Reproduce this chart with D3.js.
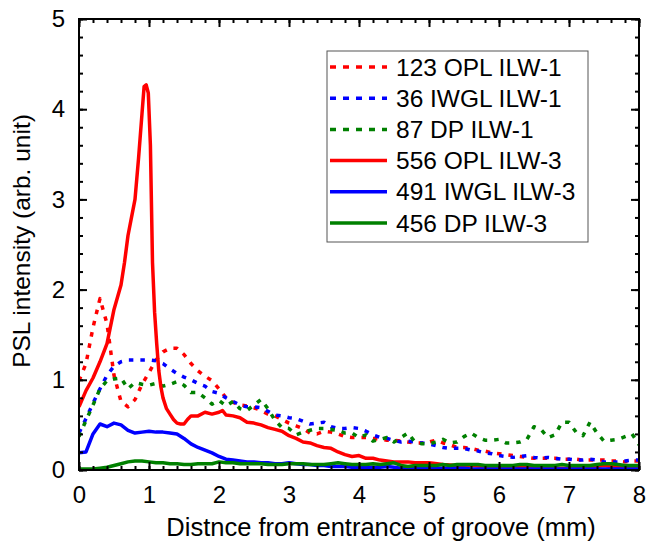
<!DOCTYPE html>
<html>
<head>
<meta charset="utf-8">
<script src="https://cdn.jsdelivr.net/npm/d3@7"></script>
<style>
body { margin: 0; background: #fff; }
text { font-family: "Liberation Sans", Arial, sans-serif; fill: #000; }
</style>
</head>
<body>
<svg id="chart" width="646" height="543"></svg>
<script>
// shared x grid (mm), step 0.1
var xGrid = d3.range(0, 81).map(function (i) { return +(i / 10).toFixed(1); });

// 123 OPL ILW-1 (dotted red)
var oplIlw1 = [0.99, 1.18, 1.58, 1.9, 1.62, 1.05, 0.76, 0.7, 0.78, 0.95,
    1.08, 1.22, 1.31, 1.35, 1.35, 1.28, 1.18, 1.1, 1.04, 0.99,
    0.9, 0.8, 0.75, 0.72, 0.71, 0.69, 0.66, 0.62, 0.6, 0.56,
    0.52, 0.49, 0.46, 0.41, 0.4, 0.43, 0.42, 0.4, 0.37, 0.36,
    0.36, 0.36, 0.35, 0.34, 0.33, 0.33, 0.32, 0.31, 0.3, 0.3,
    0.31, 0.33, 0.3, 0.28, 0.25, 0.25, 0.24, 0.22, 0.21, 0.19,
    0.18, 0.17, 0.16, 0.15, 0.14, 0.13, 0.13, 0.13, 0.13, 0.12,
    0.12, 0.12, 0.11, 0.11, 0.11, 0.11, 0.1, 0.1, 0.09, 0.1, 0.1];

// 36 IWGL ILW-1 (dotted blue)
var iwglIlw1 = [0.41, 0.57, 0.74, 0.9, 1.05, 1.15, 1.2, 1.22, 1.22, 1.22,
    1.22, 1.21, 1.18, 1.12, 1.07, 1.03, 1.0, 0.96, 0.93, 0.87,
    0.85, 0.8, 0.76, 0.72, 0.7, 0.7, 0.69, 0.65, 0.61, 0.6,
    0.58, 0.57, 0.54, 0.51, 0.52, 0.53, 0.48, 0.46, 0.46, 0.47,
    0.46, 0.43, 0.39, 0.36, 0.35, 0.33, 0.31, 0.32, 0.31, 0.3,
    0.29, 0.27, 0.25, 0.24, 0.24, 0.24, 0.22, 0.21, 0.19, 0.18,
    0.16, 0.15, 0.14, 0.15, 0.16, 0.14, 0.13, 0.14, 0.13, 0.12,
    0.12, 0.11, 0.11, 0.12, 0.11, 0.09, 0.09, 0.09, 0.1, 0.11, 0.11];

// 87 DP ILW-1 (dotted green)
var dpIlw1 = [0.37, 0.55, 0.72, 0.9, 0.99, 1.01, 1.02, 0.9, 0.97, 0.95,
    0.94, 0.96, 0.93, 0.95, 0.98, 0.94, 0.86, 0.86, 0.8, 0.73,
    0.77, 0.71, 0.76, 0.68, 0.66, 0.72, 0.78, 0.68, 0.55, 0.47,
    0.46, 0.39, 0.42, 0.44, 0.46, 0.46, 0.45, 0.44, 0.41, 0.41,
    0.36, 0.39, 0.32, 0.34, 0.36, 0.31, 0.36, 0.41, 0.31, 0.29,
    0.29, 0.31, 0.34, 0.3, 0.31, 0.37, 0.41, 0.36, 0.33, 0.33,
    0.34, 0.3, 0.3, 0.31, 0.34, 0.48, 0.45, 0.36, 0.39, 0.53,
    0.53, 0.42, 0.38, 0.53, 0.41, 0.32, 0.33, 0.34, 0.37, 0.4, 0.28];

// 556 OPL ILW-3 (solid red) has its own x, finer around the peak
var xOplIlw3 = [0, 0.1, 0.2, 0.3, 0.4, 0.5, 0.6, 0.65, 0.7, 0.75,
    0.8, 0.85, 0.9, 0.93, 0.96, 0.99, 1.02, 1.05, 1.08, 1.11,
    1.14, 1.17, 1.2, 1.25, 1.3, 1.35, 1.4, 1.45, 1.5, 1.55,
    1.6, 1.7, 1.8, 1.9, 2.0, 2.05, 2.1, 2.2, 2.3, 2.4,
    2.5, 2.6, 2.7, 2.8, 2.9, 3.0, 3.1, 3.2, 3.3, 3.4,
    3.5, 3.6, 3.7, 3.8, 3.9, 4.0, 4.1, 4.2, 4.3, 4.4,
    4.5, 4.6, 4.7, 4.8, 4.9, 5.0, 5.2, 5.4, 5.6, 5.8,
    6.0, 6.2, 6.4, 6.6, 6.8, 7.0, 7.2, 7.4, 7.5, 7.6, 7.8, 8.0];
var oplIlw3 = [0.7, 0.88, 1.02, 1.2, 1.4, 1.78, 2.05, 2.3, 2.6, 2.8,
    3.0, 3.45, 3.95, 4.25, 4.27, 4.18, 3.6, 2.3, 1.75, 1.4,
    1.1, 0.92, 0.8, 0.68, 0.62, 0.56, 0.52, 0.51, 0.51, 0.56,
    0.6, 0.6, 0.64, 0.62, 0.64, 0.66, 0.61, 0.6, 0.58, 0.53,
    0.52, 0.5, 0.47, 0.45, 0.43, 0.38, 0.35, 0.31, 0.3, 0.27,
    0.25, 0.24, 0.2, 0.17, 0.15, 0.16, 0.13, 0.13, 0.11, 0.1,
    0.09, 0.09, 0.09, 0.08, 0.08, 0.08, 0.06, 0.05, 0.05, 0.04,
    0.03, 0.03, 0.03, 0.02, 0.02, 0.02, 0.03, 0.04, 0.05, 0.04, 0.03, 0.03];

// 491 IWGL ILW-3 (solid blue)
var iwglIlw3 = [0.19, 0.2, 0.4, 0.51, 0.48, 0.52, 0.5, 0.44, 0.41, 0.42,
    0.43, 0.42, 0.42, 0.41, 0.4, 0.35, 0.29, 0.25, 0.22, 0.19,
    0.15, 0.12, 0.11, 0.1, 0.09, 0.09, 0.08, 0.08, 0.07, 0.07,
    0.08, 0.07, 0.06, 0.06, 0.05, 0.05, 0.04, 0.04, 0.04, 0.03,
    0.03, 0.03, 0.03, 0.03, 0.04, 0.03, 0.02, 0.02, 0.02, 0.02,
    0.02, 0.02, 0.02, 0.02, 0.02, 0.02, 0.01, 0.01, 0.01, 0.01,
    0.01, 0.01, 0.01, 0.01, 0.01, 0.01, 0.01, 0.01, 0.01, 0.01,
    0.01, 0.01, 0.01, 0.01, 0.01, 0.01, 0.01, 0.01, 0.01, 0.01, 0.01];

// 456 DP ILW-3 (solid green)
var dpIlw3 = [0.01, 0.01, 0.01, 0.02, 0.03, 0.05, 0.07, 0.09, 0.1, 0.1,
    0.09, 0.08, 0.08, 0.07, 0.07, 0.06, 0.06, 0.07, 0.07, 0.07,
    0.09, 0.08, 0.08, 0.07, 0.07, 0.07, 0.07, 0.06, 0.06, 0.06,
    0.07, 0.07, 0.07, 0.06, 0.06, 0.06, 0.07, 0.08, 0.07, 0.06,
    0.06, 0.06, 0.07, 0.06, 0.07, 0.08, 0.05, 0.04, 0.05, 0.05,
    0.05, 0.05, 0.06, 0.05, 0.06, 0.06, 0.06, 0.06, 0.05, 0.05,
    0.05, 0.05, 0.05, 0.06, 0.06, 0.05, 0.05, 0.05, 0.05, 0.06,
    0.05, 0.05, 0.05, 0.05, 0.06, 0.07, 0.07, 0.06, 0.05, 0.05, 0.05];

var seriesNames = ["123 OPL ILW-1", "36 IWGL ILW-1", "87 DP ILW-1",
    "556 OPL ILW-3", "491 IWGL ILW-3", "456 DP ILW-3"];
var seriesColors = ["#ff0000", "#0000ff", "#008000", "#ff0000", "#0000ff", "#008000"];
var seriesDotted = [true, true, true, false, false, false];
var xTicks = [0, 1, 2, 3, 4, 5, 6, 7, 8];
var yTicks = [0, 1, 2, 3, 4, 5];

var zip = function (xs, ys) {
    return xs.map(function (x, i) { return { x: x, y: ys[i] }; });
};
var seriesData = [
    zip(xGrid, oplIlw1), zip(xGrid, iwglIlw1), zip(xGrid, dpIlw1),
    zip(xOplIlw3, oplIlw3), zip(xGrid, iwglIlw3), zip(xGrid, dpIlw3)
];

var margins = { left: 79, right: 7, top: 19, bottom: 73 };
var graph = { width: 646 - margins.left - margins.right, height: 543 - margins.top - margins.bottom };

var xScale = d3.scaleLinear().domain([0, 8]).range([0, graph.width]);
var yScale = d3.scaleLinear().domain([0, 5]).range([graph.height, 0]);

var svg = d3.select("#chart");
var plot = svg.append("g")
    .attr("transform", "translate(" + margins.left + "," + margins.top + ")");

plot.append("clipPath").attr("id", "clip")
    .append("rect").attr("width", graph.width).attr("height", graph.height);

var line = d3.line()
    .x(function (d) { return xScale(d.x); })
    .y(function (d) { return yScale(d.y); });

var lines = plot.append("g").attr("clip-path", "url(#clip)");
seriesData.forEach(function (data, i) {
    lines.append("path")
        .datum(data)
        .attr("d", line)
        .attr("fill", "none")
        .attr("stroke", seriesColors[i])
        .attr("stroke-width", 3.5)
        .attr("stroke-linejoin", "round")
        .attr("stroke-dasharray", seriesDotted[i] ? "4.5,7" : null);
});

// axes: ticks inside on all four sides, minor every 0.2
var xMinor = d3.range(0, 8.001, 0.2);
var yMinor = d3.range(0, 5.001, 0.2);
var styleAxis = function (g) {
    g.select(".domain").remove();
    g.selectAll("line").attr("stroke", "#000").attr("stroke-width", 2);
};

plot.append("g").attr("transform", "translate(0," + graph.height + ")")
    .call(d3.axisBottom(xScale).tickValues(xMinor).tickSize(-4).tickFormat(""))
    .call(styleAxis);
var xAxis = plot.append("g").attr("transform", "translate(0," + graph.height + ")")
    .call(d3.axisBottom(xScale).tickValues(xTicks).tickSize(-8).tickPadding(16).tickFormat(d3.format("d")))
    .call(styleAxis);
plot.append("g")
    .call(d3.axisTop(xScale).tickValues(xMinor).tickSize(-4).tickFormat(""))
    .call(styleAxis);
plot.append("g")
    .call(d3.axisTop(xScale).tickValues(xTicks).tickSize(-8).tickFormat(""))
    .call(styleAxis);

plot.append("g")
    .call(d3.axisLeft(yScale).tickValues(yMinor).tickSize(-4).tickFormat(""))
    .call(styleAxis);
var yAxis = plot.append("g")
    .call(d3.axisLeft(yScale).tickValues(yTicks).tickSize(-8).tickPadding(14).tickFormat(d3.format("d")))
    .call(styleAxis);
plot.append("g").attr("transform", "translate(" + graph.width + ",0)")
    .call(d3.axisRight(yScale).tickValues(yMinor).tickSize(-4).tickFormat(""))
    .call(styleAxis);
plot.append("g").attr("transform", "translate(" + graph.width + ",0)")
    .call(d3.axisRight(yScale).tickValues(yTicks).tickSize(-8).tickFormat(""))
    .call(styleAxis);

xAxis.selectAll("text").attr("font-size", 24).attr("font-family", "Liberation Sans, Arial, sans-serif").attr("fill", "#000");
yAxis.selectAll("text").attr("font-size", 24).attr("font-family", "Liberation Sans, Arial, sans-serif").attr("fill", "#000");

plot.append("rect")
    .attr("width", graph.width).attr("height", graph.height)
    .attr("fill", "none").attr("stroke", "#000").attr("stroke-width", 2);

// axis titles
svg.append("text")
    .attr("x", 381).attr("y", 536)
    .attr("text-anchor", "middle")
    .attr("font-size", 25.5)
    .text("Distnce from entrance of groove (mm)");
svg.append("text")
    .attr("transform", "translate(30,241) rotate(-90)")
    .attr("text-anchor", "middle")
    .attr("font-size", 24.5)
    .text("PSL intensity (arb. unit)");

// legend
var legend = svg.append("g").attr("transform", "translate(327,51)");
legend.append("rect")
    .attr("width", 261).attr("height", 191)
    .attr("fill", "#fff").attr("stroke", "#555").attr("stroke-width", 1);
seriesNames.forEach(function (name, i) {
    var cy = 16 + i * 31.2;
    legend.append("line")
        .attr("x1", 3).attr("x2", 60).attr("y1", cy).attr("y2", cy)
        .attr("stroke", seriesColors[i]).attr("stroke-width", 3.5)
        .attr("stroke-dasharray", seriesDotted[i] ? "6,7" : null);
    legend.append("text")
        .attr("x", 69).attr("y", cy + 8.5)
        .attr("font-size", 24.5)
        .text(name);
});
</script>
</body>
</html>
